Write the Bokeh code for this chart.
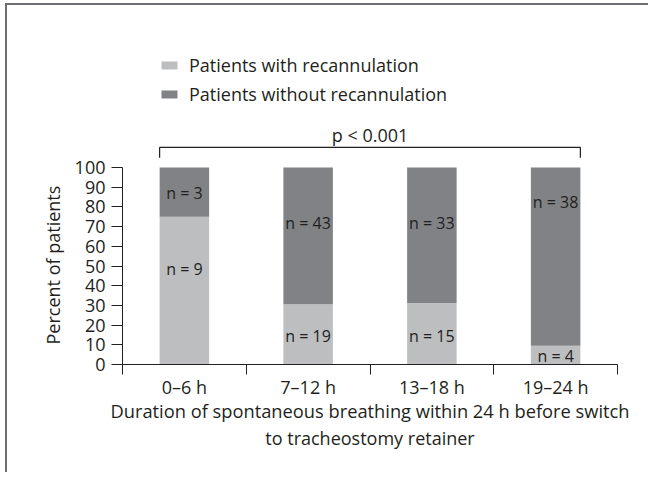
from bokeh.plotting import figure
from bokeh.models import (Range1d, FixedTicker, Legend, LegendItem, Label, Title,
                          ColumnDataSource)
from bokeh.core.properties import value
from bokeh.embed import file_html
from bokeh.resources import INLINE

# ---- data ----
categories = ["0–6 h", "7–12 h", "13–18 h", "19–24 h"]
n_with = [9, 19, 15, 4]
n_without = [3, 43, 33, 38]
with_label_y = [48.7, 14.7, 14.7, 4.2]
without_label_y = [87.3, 71.6, 71.6, 82.7]
y_ticks = list(range(0, 101, 10))
series_names = ["Patients with recannulation", "Patients without recannulation"]
p_value_text = "p < 0.001"
x_title_1 = "Duration of spontaneous breathing within 24 h before switch"
x_title_2 = "to tracheostomy retainer"
y_title = "Percent of patients"

LIGHT = "#bcbec0"
DARK = "#808285"
INK = "#231f20"
FRAME = "#6d6e71"
FONT = "Open Sans"

W, H = 648, 472

totals = [a + b for a, b in zip(n_with, n_without)]
pct_with = [100.0 * a / t for a, t in zip(n_with, totals)]
pct_without = [100.0 * b / t for b, t in zip(n_without, totals)]
xs = [i + 0.5 for i in range(len(categories))]
bar_w = 0.4

src = ColumnDataSource(dict(
    x=xs, with_pct=pct_with, without_pct=pct_without,
    with_txt=["n = %d" % v for v in n_with],
    without_txt=["n = %d" % v for v in n_without],
    with_y=with_label_y, without_y=without_label_y,
))

p = figure(width=W, height=H, x_range=Range1d(0, len(categories)),
           y_range=Range1d(0, 184.8), output_backend="svg", toolbar_location=None,
           min_border_left=122, min_border_right=31, min_border_top=0,
           min_border_bottom=108)
p.outline_line_color = None
p.xgrid.visible = False
p.ygrid.visible = False
p.background_fill_color = None
p.border_fill_color = None
# outer figure frame (left and top edges), drawn behind the transparent canvas
p.styles = {
    "background-color": "white",
    "background-image": "linear-gradient(%s, %s), linear-gradient(%s, %s)" % (FRAME, FRAME, FRAME, FRAME),
    "background-size": "2px 100%, 100% 2px",
    "background-position": "5px 3px, 5px 3px",
    "background-repeat": "no-repeat",
}

rs = p.vbar_stack(["with_pct", "without_pct"], x="x", width=bar_w,
                  color=[LIGHT, DARK], line_color=None, source=src)

p.text(x="x", y="with_y", text="with_txt", source=src, text_align="center",
       text_baseline="middle", text_font=value(FONT), text_font_size="16px",
       text_color=INK)
p.text(x="x", y="without_y", text="without_txt", source=src, text_align="center",
       text_baseline="middle", text_font=value(FONT), text_font_size="16px",
       text_color=INK)

# significance bracket spanning the bars
x0 = xs[0] - bar_w / 2
x1 = xs[-1] + bar_w / 2
p.line(x=[x0, x0, x1, x1], y=[105, 110.2, 110.2, 105], line_color=INK, line_width=1.2)
p.add_layout(Label(x=(xs[0] + xs[-1]) / 2, y=110.6, text=p_value_text,
                   text_align="center", text_baseline="bottom",
                   text_font=FONT, text_font_size="18px", text_color=INK))

legend = Legend(items=[LegendItem(label=series_names[0], renderers=[rs[0]]),
                       LegendItem(label=series_names[1], renderers=[rs[1]])],
                location=(37, 258), glyph_width=20, glyph_height=10,
                label_height=20, spacing=5, label_standoff=10, padding=0, margin=0,
                border_line_color=None, background_fill_alpha=0,
                label_text_font=FONT, label_text_font_size="18px",
                label_text_color=INK)
p.add_layout(legend)

# y axis
ya = p.yaxis[0]
ya.ticker = FixedTicker(ticks=y_ticks)
ya.bounds = (0, 100)
ya.major_tick_out = 11
ya.major_tick_in = 0
ya.minor_tick_out = 0
ya.minor_tick_in = 0
ya.axis_line_color = INK
ya.major_tick_line_color = INK
ya.major_label_standoff = 6
ya.major_label_text_font = FONT
ya.major_label_text_font_size = "18px"
ya.major_label_text_color = INK

# y axis title, centred on the 0-100 part of the axis
p.add_layout(Title(text=y_title, align="left", offset=20, standoff=14,
                   text_font=FONT, text_font_size="18px", text_font_style="normal",
                   text_color=INK), "left")

# x axis: labels at category centres, ticks at category boundaries
xa = p.xaxis[0]
xa.ticker = FixedTicker(ticks=xs, minor_ticks=list(range(len(categories) + 1)))
xa.major_label_overrides = {x: c for x, c in zip(xs, categories)}
xa.bounds = (0, len(categories))
xa.major_tick_out = 0
xa.major_tick_in = 0
xa.minor_tick_out = 10
xa.minor_tick_in = 0
xa.minor_tick_line_color = INK
xa.axis_line_color = INK
xa.major_label_standoff = 0
xa.major_label_text_font = FONT
xa.major_label_text_font_size = "18px"
xa.major_label_text_color = INK
xa.axis_label = x_title_1
xa.axis_label_standoff = -4
xa.axis_label_text_font = FONT
xa.axis_label_text_font_size = "18.3px"
xa.axis_label_text_font_style = "normal"
xa.axis_label_text_color = INK

p.add_layout(Title(text=x_title_2, align="center", text_font=FONT,
                   text_font_size="18px", text_font_style="normal",
                   text_color=INK, standoff=-3), "below")

open("out.html", "w").write(file_html(p, INLINE))
